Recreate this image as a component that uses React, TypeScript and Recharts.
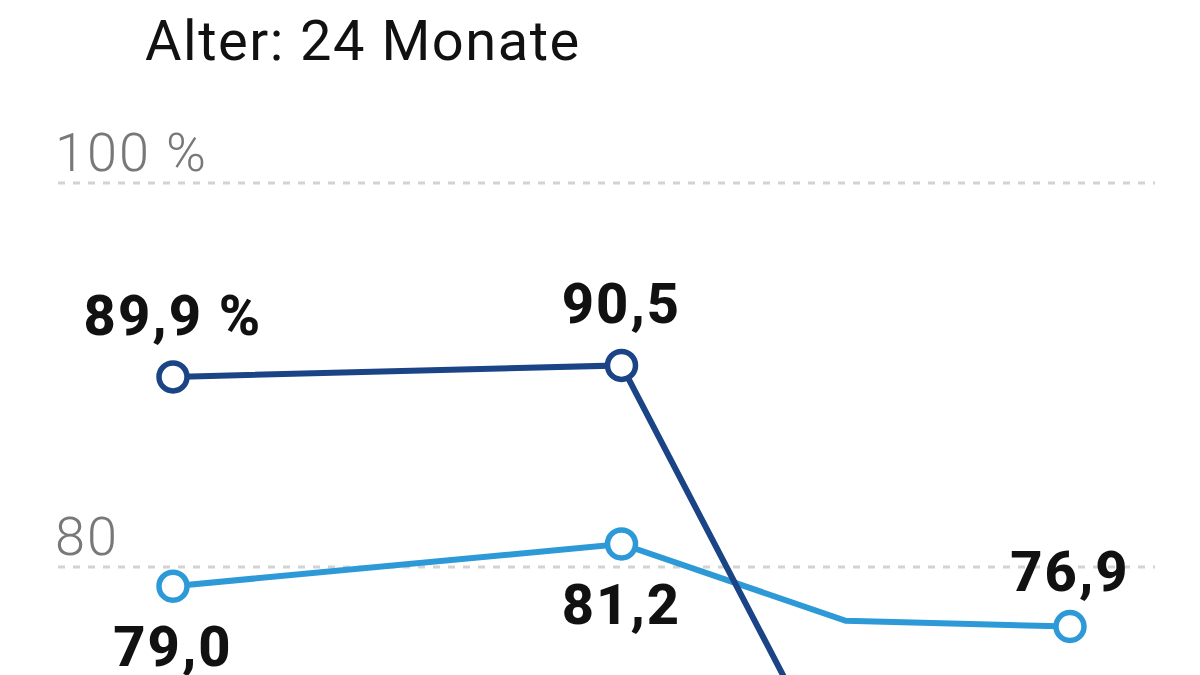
import { CartesianGrid, LabelList, Line, LineChart, XAxis, YAxis } from "recharts";

// relative spacing of the four measuring points (x labels are cut off in the source)
const positions = [0, 2, 3, 4];
const darkValues: (number | null)[] = [89.9, 90.5, 68.1, null];
const lightValues = [79.0, 81.2, 77.2, 76.9];
const yTicks = [60, 80, 100];
const tickLabels: Record<number, string> = { 60: "60", 80: "80", 100: "100 %" };
// points that carry a marker and a value label
const markedLight = [true, true, false, true];
const markedDark = [true, true, false, false];

const DARK = "#1a4486";
const LIGHT = "#2d9ad7";
const FONT = "Roboto, 'Open Sans', sans-serif";

const data = positions.map((x, i) => ({
  x,
  dark: darkValues[i],
  light: lightValues[i],
}));

const fmt = (v: number) => v.toFixed(1).replace(".", ",");

function TickLabel(props: any) {
  const { y, payload } = props;
  return (
    <text
      x={55}
      y={y - 12}
      fontSize={54}
      fontWeight={300}
      letterSpacing={2}
      fill="#787878"
      fontFamily={FONT}
    >
      {tickLabels[payload.value]}
    </text>
  );
}

function makeDot(color: string, marked: boolean[]) {
  return (props: any) => {
    const { cx, cy, index } = props;
    if (!marked[index] || cy == null) return <g key={`d${index}`} />;
    return (
      <circle
        key={`d${index}`}
        cx={cx}
        cy={cy}
        r={14}
        fill="#fff"
        stroke={color}
        strokeWidth={5.5}
      />
    );
  };
}

const labelStyle = {
  fontSize: 56,
  fontWeight: 800,
  fill: "#111",
  fontFamily: FONT,
  letterSpacing: 2,
};

function DarkLabel(props: any) {
  const { x, y, value, index } = props;
  if (!markedDark[index] || value == null) return null;
  return (
    <text x={x} y={y - 42} textAnchor="middle" {...labelStyle}>
      {fmt(value) + (index === 0 ? " %" : "")}
    </text>
  );
}

function LightLabel(props: any) {
  const { x, y, value, index } = props;
  if (!markedLight[index] || value == null) return null;
  const last = index === lightValues.length - 1;
  return (
    <text x={x} y={last ? y - 36 : y + 80} textAnchor="middle" {...labelStyle}>
      {fmt(value)}
    </text>
  );
}

export default function App() {
  return (
    <div
      style={{
        position: "absolute",
        top: 0,
        left: 0,
        width: 1200,
        height: 675,
        overflow: "hidden",
        background: "#fff",
      }}
    >
      <div
        style={{
          position: "absolute",
          left: 145,
          top: 6,
          fontFamily: FONT,
          fontSize: 56,
          letterSpacing: 1.5,
          color: "#111",
          lineHeight: "70px",
          whiteSpace: "nowrap",
        }}
      >
        Alter: 24 Monate
      </div>
      <LineChart
        width={1200}
        height={1000}
        data={data}
        margin={{ top: 183, right: 45, bottom: 49, left: 57 }}
      >
        <CartesianGrid
          vertical={false}
          stroke="#d3d3d3"
          strokeWidth={3}
          strokeDasharray="7 8"
        />
        <XAxis
          dataKey="x"
          type="number"
          domain={[0, 4]}
          padding={{ left: 115, right: 85 }}
          hide
        />
        <YAxis
          domain={[60, 100]}
          ticks={yTicks}
          width={1}
          axisLine={false}
          tickLine={false}
          tick={(p: any) => <TickLabel {...p} />}
          interval={0}
        />
        <Line
          dataKey="light"
          stroke={LIGHT}
          strokeWidth={6}
          dot={makeDot(LIGHT, markedLight)}
          isAnimationActive={false}
        >
          <LabelList dataKey="light" content={<LightLabel />} />
        </Line>
        <Line
          dataKey="dark"
          stroke={DARK}
          strokeWidth={6}
          dot={makeDot(DARK, markedDark)}
          connectNulls={false}
          isAnimationActive={false}
        >
          <LabelList dataKey="dark" content={<DarkLabel />} />
        </Line>
      </LineChart>
    </div>
  );
}
